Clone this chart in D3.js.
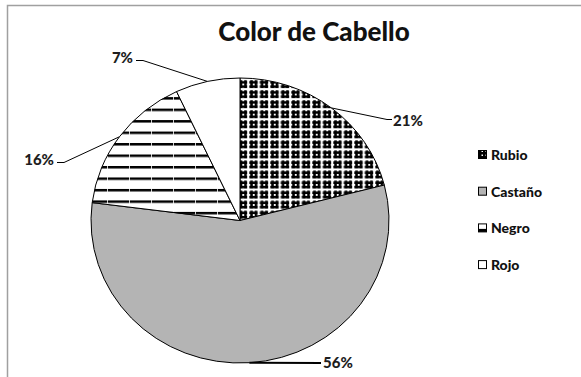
<!DOCTYPE html>
<html>
<head>
<meta charset="utf-8">
<script src="https://cdn.jsdelivr.net/npm/d3@7"></script>
<style>
  body { margin: 0; background: #fff; }
  text { font-family: Lato, "Open Sans", sans-serif; font-weight: bold; }
</style>
</head>
<body>
<div id="chart"></div>
<script>
// data
var categories = ["Rubio", "Castaño", "Negro", "Rojo"];
var shares = [21, 56, 16, 7];
var titleText = "Color de Cabello";

var width = 581, height = 377;
var cx = 240, cy = 220.5, rx = 149, ry = 142.5;

var svg = d3.select("#chart").append("svg")
    .attr("width", width)
    .attr("height", height);

// frame (only top and left edges are visible in the crop)
svg.append("path")
    .attr("d", "M7.5,377 L7.5,5.5 L581,5.5")
    .attr("fill", "none")
    .attr("stroke", "#a0a0a0")
    .attr("stroke-width", 1.5);

var defs = svg.append("defs");

// plaid-like pattern for Rubio
var pRubio = defs.append("pattern")
    .attr("id", "pat-rubio")
    .attr("patternUnits", "userSpaceOnUse")
    .attr("width", 10.5).attr("height", 10.5)
    .attr("x", cx).attr("y", 0);
pRubio.append("rect").attr("width", 10.5).attr("height", 10.5).attr("fill", "#fff");
pRubio.append("path")
    .attr("d", "M0.3,2.5H8.7M0.3,7H8.7M2.5,0.3V8.7M7,0.3V8.7")
    .attr("stroke", "#000").attr("stroke-width", 2.6);

// horizontal stripes for Negro
var pNegro = defs.append("pattern")
    .attr("id", "pat-negro")
    .attr("patternUnits", "userSpaceOnUse")
    .attr("width", 22).attr("height", 12)
    .attr("x", 0).attr("y", 3);
pNegro.append("rect").attr("width", 22).attr("height", 12).attr("fill", "#fff");
pNegro.append("rect").attr("x", 0).attr("y", 0).attr("width", 21).attr("height", 2.6).attr("fill", "#000");
pNegro.append("rect").attr("x", 21).attr("y", 0).attr("width", 1).attr("height", 2.6).attr("fill", "#ccc");

var fills = ["url(#pat-rubio)", "#b4b4b4", "url(#pat-negro)", "#fff"];
var color = d3.scaleOrdinal().domain(categories).range(fills);

var data = categories.map(function(c, i) { return {label: c, value: shares[i]}; });

var pie = d3.pie().sort(null).value(function(d) { return d.value; });
var arcs = pie(data);

// circle arc, stretched into the slight ellipse of the original
var arc = d3.arc().innerRadius(0).outerRadius(rx);

var g = svg.append("g")
    .attr("transform", "translate(" + cx + "," + cy + ") scale(1," + (ry / rx) + ")");

g.selectAll("path.slice")
    .data(arcs)
    .enter().append("path")
    .attr("class", "slice")
    .attr("d", arc)
    .attr("fill", function(d) { return color(d.data.label); })
    .attr("stroke", "#000")
    .attr("stroke-width", 1)
    .attr("vector-effect", "non-scaling-stroke");

// point on the pie edge at the middle of a slice
function edgePoint(d) {
    var a = (d.startAngle + d.endAngle) / 2;
    return [cx + rx * Math.sin(a), cy - ry * Math.cos(a)];
}

// where each label sits: elbow point, text anchor
var labelPos = {
    "Rubio":   {elbow: [387, 119.5], end: [392, 119.5], tx: 393, ty: 121, anchor: "start", w: 1},
    "Castaño": {elbow: null,         end: [321, 363],   tx: 323, ty: 363, anchor: "start", w: 2},
    "Negro":   {elbow: [64, 162.5],  end: [57, 162.5],  tx: 54,  ty: 160, anchor: "end",   w: 1},
    "Rojo":    {elbow: [143, 60.5],  end: [136, 60.5],  tx: 133, ty: 58,  anchor: "end",   w: 1}
};

arcs.forEach(function(d) {
    var lp = labelPos[d.data.label];
    var p = edgePoint(d);
    var pts = [p];
    if (lp.elbow) pts.push(lp.elbow);
    pts.push(lp.end);
    svg.append("path")
        .attr("d", d3.line()(pts))
        .attr("fill", "none")
        .attr("stroke", "#000")
        .attr("stroke-width", lp.w);
    svg.append("text")
        .attr("x", lp.tx)
        .attr("y", lp.ty)
        .attr("dy", "0.35em")
        .attr("text-anchor", lp.anchor)
        .attr("fill", "#1e1e1e")
        .style("font-size", "15px")
        .style("font-weight", 900)
        .text(d.data.value + "%");
});

// title
svg.append("text")
    .attr("x", 314)
    .attr("y", 41)
    .attr("text-anchor", "middle")
    .attr("fill", "#111")
    .style("font-size", "26px")
    .style("font-weight", 900)
    .text(titleText);

// legend
var legend = svg.append("g").attr("transform", "translate(478,155)");
var item = legend.selectAll("g.legend")
    .data(categories)
    .enter().append("g")
    .attr("class", "legend")
    .attr("transform", function(d, i) { return "translate(0," + (i * 36.7) + ")"; });

var legendPat = defs.append("pattern")
    .attr("id", "pat-rubio-small")
    .attr("patternUnits", "userSpaceOnUse")
    .attr("width", 4).attr("height", 4)
    .attr("x", 478).attr("y", 150);
legendPat.append("rect").attr("width", 4).attr("height", 4).attr("fill", "#000");
legendPat.append("rect").attr("x", 1.5).attr("y", 1.5).attr("width", 1.5).attr("height", 1.5).attr("fill", "#fff");

item.append("rect")
    .attr("x", 0.5).attr("y", -4.5)
    .attr("width", 8).attr("height", 8)
    .attr("fill", function(d, i) { return i === 0 ? "url(#pat-rubio-small)" : (i === 2 ? "#fff" : fills[i]); })
    .attr("stroke", "#000")
    .attr("stroke-width", 1);

// Negro marker: dark band at the bottom
item.filter(function(d, i) { return i === 2; })
    .append("rect")
    .attr("x", 0.5).attr("y", 0.5)
    .attr("width", 8).attr("height", 3)
    .attr("fill", "#000");

item.append("text")
    .attr("x", 13)
    .attr("y", 0)
    .attr("dy", "0.35em")
    .attr("fill", "#111")
    .style("font-size", "14px")
    .style("font-weight", 900)
    .text(function(d) { return d; });
</script>
</body>
</html>
